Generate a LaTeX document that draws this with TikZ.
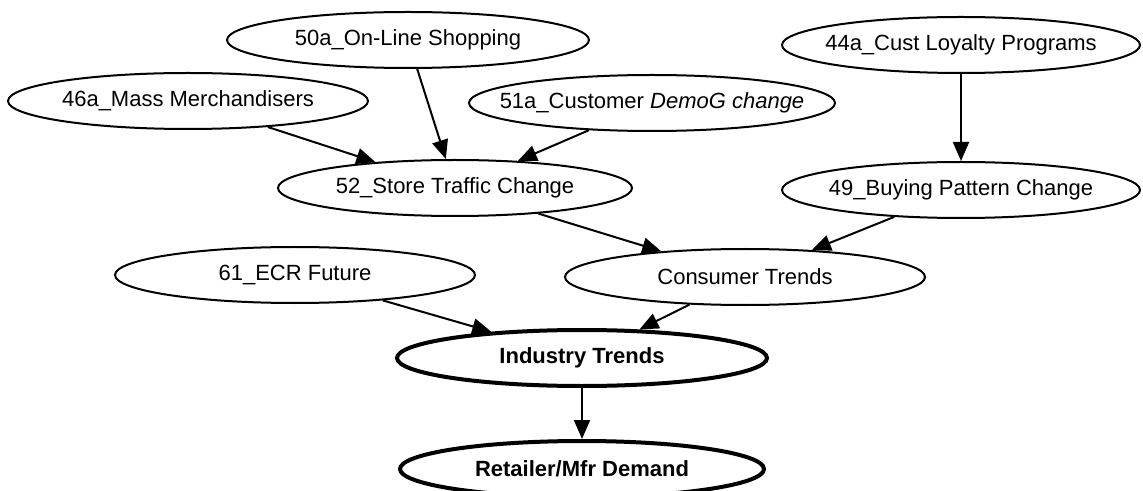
\documentclass[tikz,border=0pt]{standalone}
\usepackage{fontspec}
\setmainfont{Liberation Sans}
\usetikzlibrary{shapes.geometric, arrows.meta}

\begin{document}
\begin{tikzpicture}[x=0.5pt, y=-0.5pt,
  factor/.style={ellipse, draw, line width=1pt, inner sep=0pt, minimum width=180pt, minimum height=28pt, font=\fontsize{11}{13}\selectfont},
  trend/.style={factor, line width=2pt, font=\fontsize{11}{13}\selectfont\bfseries},
  link/.style={-{Triangle[length=9.5pt, width=8pt]}, line width=1pt}]

\useasboundingbox (0,0) rectangle (1143,491);

% drivers
\node[factor, minimum width=181pt] (n50a) at (408,40) {\makebox[0pt]{50a\_On-Line Shopping}};
\node[factor, minimum width=179pt] (n44a) at (961,45) {\makebox[0pt]{44a\_Cust Loyalty Programs}};
\node[factor] (n46a) at (188,101) {\makebox[0pt]{46a\_Mass Merchandisers}};
\node[factor, minimum width=183pt] (n51a) at (652,103) {\makebox[0pt]{51a\_Customer \textit{DemoG change}}};
\node[factor, minimum width=177pt] (n52) at (455,188) {\makebox[0pt]{52\_Store Traffic Change}};
\node[factor, minimum width=179pt] (n49) at (961,190) {\makebox[0pt]{49\_Buying Pattern Change}};
\node[factor] (n61) at (295,275) {\makebox[0pt]{61\_ECR Future}};
\node[factor] (nCT) at (745,277) {\makebox[0pt]{Consumer Trends}};

% outcomes
\node[trend, minimum width=185pt] (nIT) at (582,358) {\makebox[0pt]{Industry Trends}};
\node[trend, minimum width=182pt] (nRD) at (582,469) {\makebox[0pt]{Retailer/Mfr Demand}};

\draw[link] (n46a) -- (n52);
\draw[link] (n50a) -- (n52);
\draw[link] (n51a) -- (n52);
\draw[link] (n44a) -- (n49);
\draw[link] (n52) -- (nCT);
\draw[link] (n49) -- (nCT);
\draw[link] (n61) -- (nIT);
\draw[link] (nCT) -- (nIT);
\draw[link] (nIT) -- (nRD);

\end{tikzpicture}
\end{document}
